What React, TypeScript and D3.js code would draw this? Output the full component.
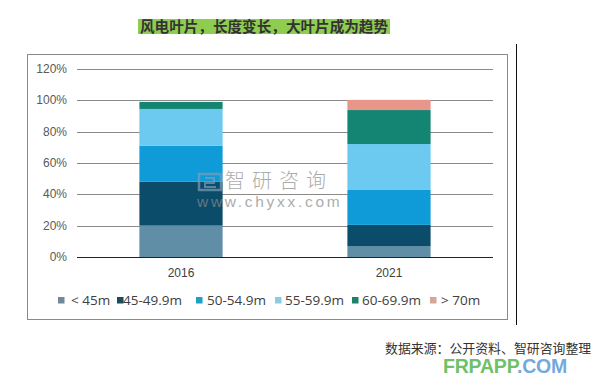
import React from "react";
import * as d3 from "d3";

const categories = ["2016", "2021"];
const seriesNames = ["< 45m", "45-49.9m", "50-54.9m", "55-59.9m", "60-69.9m", "> 70m"];
const lt45 = [0.2, 0.07];
const s45to49 = [0.28, 0.135];
const s50to54 = [0.23, 0.223];
const s55to59 = [0.235, 0.293];
const s60to69 = [0.045, 0.217];
const gt70 = [0, 0.065];
const yTicks = [0, 0.2, 0.4, 0.6, 0.8, 1.0, 1.2];
const colors = ["#5f8ea6", "#0b4c6a", "#0f9bd7", "#6cc9f0", "#138572", "#e8958a"];
const legendColors = ["#6d8a96", "#1b4b5e", "#1e9fc4", "#8ccbe6", "#21806a", "#d9a598"];
const legendSquareX = [58, 117, 196, 275, 352, 430];
const legendTextX = [71, 123, 207, 285, 362, 441];

const title = "风电叶片，长度变长，大叶片成为趋势";
const source = "数据来源：公开资料、智研咨询整理";

export default function App() {
  const W = 601, H = 387;
  const x = d3.scaleBand<string>().domain(categories).range([77, 493]).paddingInner(0.6).paddingOuter(0.3);
  const y = d3.scaleLinear().domain([0, 1.2]).range([257, 69]);
  const seriesArrays = [lt45, s45to49, s50to54, s55to59, s60to69, gt70];
  const rows = categories.map((c, i) => {
    const r: any = { cat: c };
    seriesNames.forEach((s, j) => (r[s] = seriesArrays[j][i]));
    return r;
  });
  const stacked = d3.stack<any>().keys(seriesNames)(rows);
  const fmt = (v: number) => `${Math.round(v * 100)}%`;
  const sans = "'Liberation Sans', Arial, sans-serif";
  const cjk = "'Noto Sans CJK SC', sans-serif";

  return (
    <svg width={W} height={H} style={{ position: "absolute", left: 0, top: 0, background: "#fff" }}>
      <rect x={0} y={0} width={W} height={H} fill="#fff" />
      {/* title */}
      <rect x={138} y={19} width={252} height={15} fill="#8fcd50" />
      <text x={264} y={31.5} textAnchor="middle" fontFamily={cjk} fontSize={14.6} fontWeight={700} fill="#333">
        {title}
      </text>
      {/* chart frame */}
      <rect x={27.5} y={54.5} width={480} height={265} fill="none" stroke="#8a8a8a" strokeWidth={1} />
      <line x1={516.5} x2={516.5} y1={44} y2={325} stroke="#111" strokeWidth={1} />
      {/* gridlines */}
      {yTicks.map((t) => (
        <g key={t}>
          {t > 0 && (
            <line x1={77} x2={493} y1={Math.round(y(t)) + 0.5} y2={Math.round(y(t)) + 0.5} stroke="#8a8a8a" strokeWidth={1} />
          )}
          <text x={67} y={y(t) + 4} textAnchor="end" fontFamily={sans} fontSize={12} fill="#595959">
            {fmt(t)}
          </text>
        </g>
      ))}
      {/* bars */}
      {stacked.map((layer, j) =>
        layer.map((d, i) =>
          d[1] - d[0] > 0 ? (
            <rect
              key={`${j}-${i}`}
              x={x(categories[i])!}
              y={y(d[1])}
              width={x.bandwidth()}
              height={y(d[0]) - y(d[1])}
              fill={colors[j]}
            />
          ) : null
        )
      )}
      <line x1={77} x2={493} y1={257.5} y2={257.5} stroke="#222" strokeWidth={1} />
      {categories.map((c) => (
        <text key={c} x={x(c)! + x.bandwidth() / 2} y={277} textAnchor="middle" fontFamily={sans} fontSize={12} fill="#404040">
          {c}
        </text>
      ))}
      {/* watermark */}
      <g opacity={0.7}>
        <rect x={199} y={174} width={22} height={16} fill="none" stroke="#7e9db5" strokeWidth={2.5} />
        <path d="M205 178 H214 V183 H205 V187 H216" fill="none" stroke="#7e9db5" strokeWidth={2} />
        <text x={225} y={187.5} fontFamily={cjk} fontSize={20} fontWeight={300} letterSpacing={7} fill="#8a8a8a">
          智研咨询
        </text>
        <text x={197} y={207} fontFamily={sans} fontSize={15.5} letterSpacing={2.7} fill="#8a8a8a">
          www.chyxx.com
        </text>
      </g>
      {/* legend */}
      {seriesNames.map((s, j) => (
        <g key={s}>
          <rect x={legendSquareX[j]} y={297} width={6.5} height={6.5} fill={legendColors[j]} />
          <text x={legendTextX[j]} y={304.5} fontFamily="'Open Sans', sans-serif" fontSize={13.5} fill="#404040">
            {s}
          </text>
        </g>
      ))}
      {/* source */}
      <text x={385} y={352.5} fontFamily={cjk} fontSize={12.9} fill="#333">
        {source}
      </text>
      <text x={443} y={373} fontFamily={sans} fontSize={19.5} fontWeight={700} letterSpacing={-0.2}>
        <tspan fill="#6fc06a">FRPAPP</tspan>
        <tspan fill="#74a9dc">.COM</tspan>
      </text>
    </svg>
  );
}
